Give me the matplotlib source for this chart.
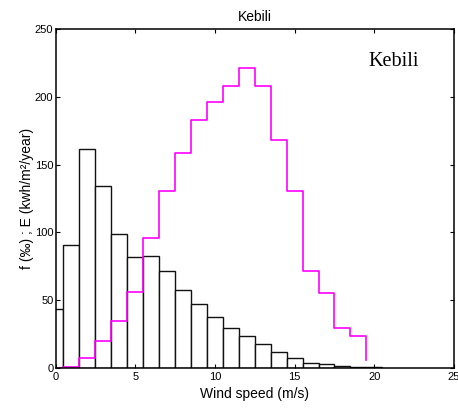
import numpy as np
import matplotlib
matplotlib.use('Agg')
import matplotlib.pyplot as plt

plt.rcParams['font.family'] = ['Liberation Sans', 'DejaVu Sans']

# Datos (Kebili)
speeds = np.arange(0, 21)  # velocidad del viento (m/s), centro de cada clase
freq = [43.2, 90.8, 161.5, 134.4, 98.6, 82.1, 82.9, 71.3, 57.5, 47.0, 37.2,
        29.0, 23.5, 17.6, 11.7, 6.8, 3.1, 2.4, 1.3, 0.6, 0.3]  # f (por mil)
energy = [0.0, 0.5, 6.9, 19.7, 34.3, 55.8, 96.2, 130.9, 158.3, 182.9, 196.2,
          208.2, 221.4, 208.2, 168.4, 130.5, 71.3, 55.0, 29.3, 23.4, 5.7]  # E (kwh/m2/year)

fig = plt.figure(figsize=(4.58, 4.11), dpi=100)
ax = fig.add_axes([0.1212, 0.1054, 0.8701, 0.8231])

# Histograma de frecuencias
ax.bar(speeds, freq, width=1.0, facecolor='white', edgecolor='#111111', linewidth=1.0)

# Energia en escalera
ax.step(speeds - 0.5, energy, where='post', color='#ff00ff', linewidth=1.2)

ax.set_xlim(0, 25)
ax.set_ylim(0, 250)
ax.set_xticks([0, 5, 10, 15, 20, 25])
ax.set_yticks([0, 50, 100, 150, 200, 250])
ax.tick_params(direction='in', length=3, width=0.8, top=True, right=True,
               labelsize=8)
ax.tick_params(axis='x', pad=3)
ax.tick_params(axis='y', pad=1.5)
for s in ax.spines.values():
    s.set_linewidth(1.1)

ax.set_xlabel('Wind speed (m/s)', fontsize=10, labelpad=4)
ax.set_ylabel('f (‰) ; E (kwh/m²/year)', fontsize=10, labelpad=1)
ax.set_title('Kebili', fontsize=10, pad=6)

ax.text(0.848, 0.905, 'Kebili', transform=ax.transAxes, fontsize=14.5,
        family='Liberation Serif', ha='center', va='center')

fig.savefig('out.png', dpi=100)
